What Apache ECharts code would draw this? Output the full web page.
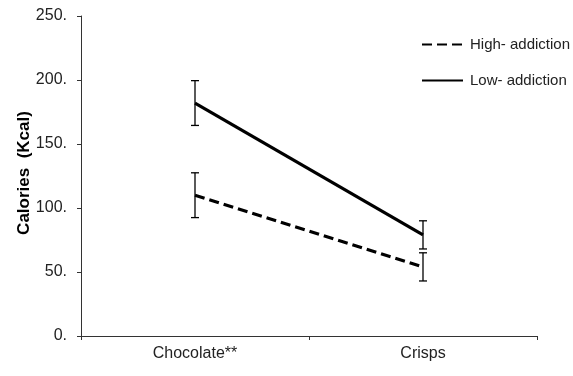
<!DOCTYPE html>
<html><head><meta charset="utf-8">
<script src="https://cdn.jsdelivr.net/npm/echarts@6/dist/echarts.min.js"></script>
<style>html,body{margin:0;padding:0;background:#fff}#c{width:573px;height:376px}</style>
</head><body><div id="c"></div>
<script>
var categories = ['Chocolate**', 'Crisps'];
var highMean = [110, 54];
var highErr = [17.5, 11];
var lowMean = [182, 79];
var lowErr = [17.5, 11];
var yTicks = [0, 50, 100, 150, 200, 250];

function errData(mean, err) {
  return mean.map(function (m, i) { return [i, m - err[i], m + err[i]]; });
}
function errRender(params, api) {
  var x = api.value(0);
  var lo = api.coord([x, api.value(1)]);
  var hi = api.coord([x, api.value(2)]);
  var w = 4;
  var st = { stroke: '#000', lineWidth: 1.3 };
  return { type: 'group', children: [
    { type: 'line', shape: { x1: lo[0], y1: lo[1], x2: hi[0], y2: hi[1] }, style: st },
    { type: 'line', shape: { x1: lo[0] - w, y1: lo[1], x2: lo[0] + w, y2: lo[1] }, style: st },
    { type: 'line', shape: { x1: hi[0] - w, y1: hi[1], x2: hi[0] + w, y2: hi[1] }, style: st }
  ]};
}

var FONT = 'Liberation Sans, Arial, sans-serif';
var chart = echarts.init(document.getElementById('c'), null, { renderer: 'canvas' });
chart.setOption({
  animation: false,
  backgroundColor: '#fff',
  textStyle: { fontFamily: FONT },
  grid: { left: 81, right: 36, top: 16, bottom: 40 },
  legend: {
    orient: 'vertical', left: 416, top: 32, itemGap: 21,
    itemWidth: 41, itemHeight: 16,
    itemStyle: { color: 'rgba(0,0,0,0)', borderWidth: 0, opacity: 0 },
    textStyle: { fontSize: 15, color: '#222', fontFamily: FONT, padding: [0, 0, 0, 2] },
    data: ['High- addiction', 'Low- addiction']
  },
  xAxis: {
    type: 'category', data: categories, boundaryGap: true,
    axisLine: { lineStyle: { color: '#333', width: 1 } },
    axisTick: { show: true, length: 4, lineStyle: { color: '#333' } },
    axisLabel: { fontSize: 16, color: '#222', margin: 10 },
    splitLine: { show: false }
  },
  yAxis: {
    type: 'value', min: 0, max: 250, interval: 50,
    name: 'Calories  (Kcal)', nameLocation: 'middle', nameGap: 48, nameRotate: 90,
    nameMoveOverlap: false,
    nameTextStyle: { fontSize: 17, fontWeight: 'bold', color: '#000', padding: [0, 0, 0, 6] },
    axisLine: { show: true, lineStyle: { color: '#333', width: 1 } },
    axisTick: { show: true, length: 4, lineStyle: { color: '#333' } },
    axisLabel: { fontSize: 16, color: '#222', margin: 14, formatter: function (v) { return v + '.'; } },
    splitLine: { show: false }
  },
  series: [
    { name: 'High- addiction', type: 'line', data: highMean, symbol: 'none',
      lineStyle: { color: '#000', width: 3.2, type: [10, 5] }, itemStyle: { color: '#000' }, z: 3 },
    { name: 'Low- addiction', type: 'line', data: lowMean, symbol: 'none',
      lineStyle: { color: '#000', width: 3.2, type: 'solid' }, itemStyle: { color: '#000' }, z: 3 },
    { type: 'custom', data: errData(highMean, highErr), renderItem: errRender, z: 4, silent: true },
    { type: 'custom', data: errData(lowMean, lowErr), renderItem: errRender, z: 4, silent: true }
  ]
});
</script></body></html>
